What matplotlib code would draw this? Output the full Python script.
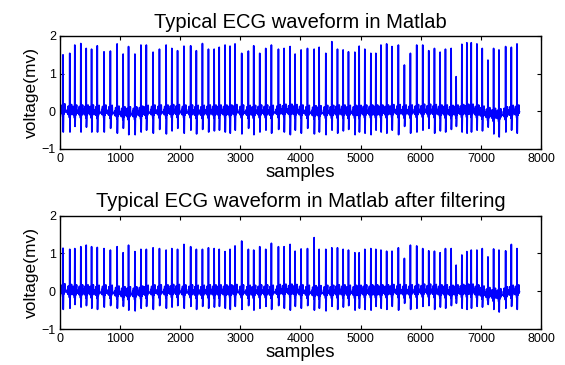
import numpy as np
import matplotlib
matplotlib.use("Agg")
import matplotlib.pyplot as plt

plt.rcParams['font.family'] = ['Liberation Sans', 'DejaVu Sans']

# R-peak sample positions (same beats in both traces)
r_pos = [50, 162, 246, 346, 436, 525, 620, 732, 838, 950, 1050, 1140, 1246, 1346,
         1436, 1548, 1654, 1765, 1860, 1955, 2062, 2173, 2268, 2369, 2469, 2564, 2648,
         2745, 2828, 2911, 3022, 3133, 3222, 3322, 3422, 3516, 3633, 3727, 3827, 3910,
         4010, 4116, 4227, 4310, 4421, 4521, 4615, 4709, 4798, 4904, 4976, 5070, 5170,
         5253, 5338, 5433, 5522, 5628, 5728, 5828, 5933, 6033, 6133, 6228, 6322, 6411,
         6506, 6589, 6684, 6767, 6840, 6934, 7023, 7118, 7212, 7301, 7412, 7507, 7601]

# R-peak heights, raw signal (mv)
r_raw = [1.50, 1.54, 1.76, 1.80, 1.67, 1.65, 1.74, 1.58, 1.60, 1.79, 1.52, 1.72, 1.52, 1.76,
         1.76, 1.57, 1.65, 1.76, 1.67, 1.61, 1.73, 1.74, 1.61, 1.80, 1.65, 1.65, 1.70,
         1.76, 1.73, 1.79, 1.54, 1.60, 1.74, 1.54, 1.67, 1.76, 1.65, 1.67, 1.72, 1.52,
         1.63, 1.67, 1.65, 1.70, 1.54, 1.85, 1.65, 1.63, 1.58, 1.57, 1.73, 1.65, 1.54,
         1.54, 1.76, 1.79, 1.72, 1.76, 1.23, 1.54, 1.76, 1.76, 1.61, 1.67, 1.57, 1.65,
         1.67, 0.92, 1.78, 1.82, 1.82, 1.79, 1.67, 1.36, 1.67, 1.63, 1.72, 1.70, 1.79]

# R-peak heights, filtered signal (mv)
r_filt = [1.14, 1.11, 1.13, 1.18, 1.22, 1.18, 1.16, 1.13, 1.09, 1.18, 1.02, 1.22, 1.05, 1.11,
          1.11, 1.15, 1.13, 1.09, 1.13, 1.11, 1.24, 1.18, 1.11, 1.11, 1.15, 1.13, 1.11,
          1.05, 1.11, 1.20, 1.33, 1.11, 1.09, 1.18, 1.11, 1.27, 1.18, 1.18, 1.24, 1.06,
          1.12, 1.13, 1.42, 1.11, 1.11, 1.15, 1.15, 1.11, 1.09, 1.02, 1.02, 1.11, 1.13,
          1.11, 1.09, 1.06, 1.06, 1.15, 0.87, 1.22, 1.20, 1.13, 1.07, 1.06, 1.02, 1.13,
          1.13, 0.69, 0.96, 1.05, 1.09, 1.09, 1.13, 0.91, 1.12, 1.09, 1.07, 1.24, 1.13]

# S-wave troughs, raw signal (mv)
s_raw = [-0.55, -0.55, -0.40, -0.55, -0.42, -0.55, -0.55, -0.55, -0.45, -0.58, -0.45, -0.62,
         -0.62, -0.55, -0.50, -0.58, -0.48, -0.60, -0.52, -0.45, -0.58, -0.50, -0.60, -0.48,
         -0.55, -0.52, -0.50, -0.55, -0.58, -0.50, -0.60, -0.45, -0.62, -0.55, -0.50, -0.58,
         -0.48, -0.55, -0.62, -0.50, -0.58, -0.45, -0.60, -0.55, -0.62, -0.50, -0.58, -0.52,
         -0.48, -0.62, -0.55, -0.58, -0.62, -0.50, -0.55, -0.58, -0.50, -0.62, -0.40, -0.58,
         -0.55, -0.50, -0.45, -0.58, -0.52, -0.55, -0.48, -0.40, -0.55, -0.58, -0.55, -0.50,
         -0.52, -0.42, -0.60, -0.68, -0.55, -0.50, -0.58]

# S-wave troughs, filtered signal (mv)
s_filt = [-0.48, -0.45, -0.35, -0.42, -0.38, -0.45, -0.48, -0.42, -0.38, -0.45, -0.40, -0.50,
          -0.52, -0.45, -0.40, -0.48, -0.38, -0.45, -0.42, -0.38, -0.45, -0.40, -0.48, -0.40,
          -0.45, -0.42, -0.40, -0.45, -0.48, -0.40, -0.48, -0.38, -0.50, -0.45, -0.40, -0.48,
          -0.38, -0.45, -0.50, -0.40, -0.45, -0.38, -0.50, -0.45, -0.52, -0.40, -0.48, -0.42,
          -0.38, -0.50, -0.45, -0.48, -0.50, -0.40, -0.45, -0.48, -0.40, -0.50, -0.32, -0.48,
          -0.45, -0.40, -0.38, -0.48, -0.42, -0.45, -0.38, -0.32, -0.45, -0.48, -0.45, -0.40,
          -0.42, -0.35, -0.48, -0.55, -0.45, -0.40, -0.48]

# per-beat baseline level (mv)
base = [-0.02, -0.04, -0.05, -0.05, -0.05, -0.05, -0.06, -0.05, -0.06, -0.08, -0.10, -0.10,
        -0.10, -0.08, -0.06, -0.05, -0.05, -0.05, -0.04, -0.04, -0.05, -0.05, -0.06, -0.06,
        -0.05, -0.05, -0.05, -0.05, -0.05, -0.04, -0.05, -0.06, -0.06, -0.05, -0.05, -0.06,
        -0.04, -0.03, -0.03, -0.04, -0.05, -0.06, -0.07, -0.07, -0.06, -0.06, -0.05, -0.05,
        -0.06, -0.06, -0.06, -0.05, -0.05, -0.05, -0.05, -0.05, -0.04, -0.04, -0.05, -0.05,
        -0.04, -0.03, -0.03, -0.04, -0.05, -0.05, -0.06, -0.05, -0.04, -0.03, -0.03, -0.05,
        -0.08, -0.12, -0.14, -0.15, -0.10, -0.06, -0.05]

# one beat, sample offsets from the R peak and level above the baseline
beat_off = [-42, -36, -30, -24, -18, -12, -8, -4, 0, 4, 8, 12, 18, 24, 30, 36, 40]
beat_lvl = [0.0, 0.10, -0.04, 0.18, -0.03, 0.08, -0.07, -0.13, None, None, -0.09,
            0.07, -0.05, 0.12, 0.22, 0.0, 0.04]


def build_trace(peaks, troughs):
    xs, ys = [], []
    for r, pk, tr, b in zip(r_pos, peaks, troughs, base):
        for off, lv in zip(beat_off, beat_lvl):
            xs.append(r + off)
            if off == 0:
                ys.append(pk)
            elif off == 4:
                ys.append(tr)
            else:
                ys.append(b + lv)
    return np.array(xs), np.array(ys)


traces = [
    ("Typical ECG waveform in Matlab", build_trace(r_raw, s_raw)),
    ("Typical ECG waveform in Matlab after filtering", build_trace(r_filt, s_filt)),
]

fig = plt.figure(figsize=(5.65, 3.65), dpi=100)
rects = [[0.1062, 0.5918, 0.8513, 0.3096], [0.1062, 0.0986, 0.8513, 0.3104]]

for rect, (title, (x, y)) in zip(rects, traces):
    ax = fig.add_axes(rect)
    ax.plot(x, y, color=(0, 0, 1), linewidth=1.2)
    ax.set_xlim(0, 8000)
    ax.set_ylim(-1, 2)
    ax.set_xticks(np.arange(0, 8001, 1000))
    ax.set_yticks([-1, 0, 1, 2])
    ax.tick_params(direction='in', top=True, right=True, length=3, width=0.8,
                   labelsize=9, pad=3)
    for sp in ax.spines.values():
        sp.set_linewidth(1.0)
    ax.set_title(title, fontsize=14.5, pad=6)
    ax.set_xlabel('samples', fontsize=13.5, labelpad=-1)
    ax.set_ylabel('voltage(mv)', fontsize=12.5, labelpad=2)

fig.savefig("out.png", dpi=100)
